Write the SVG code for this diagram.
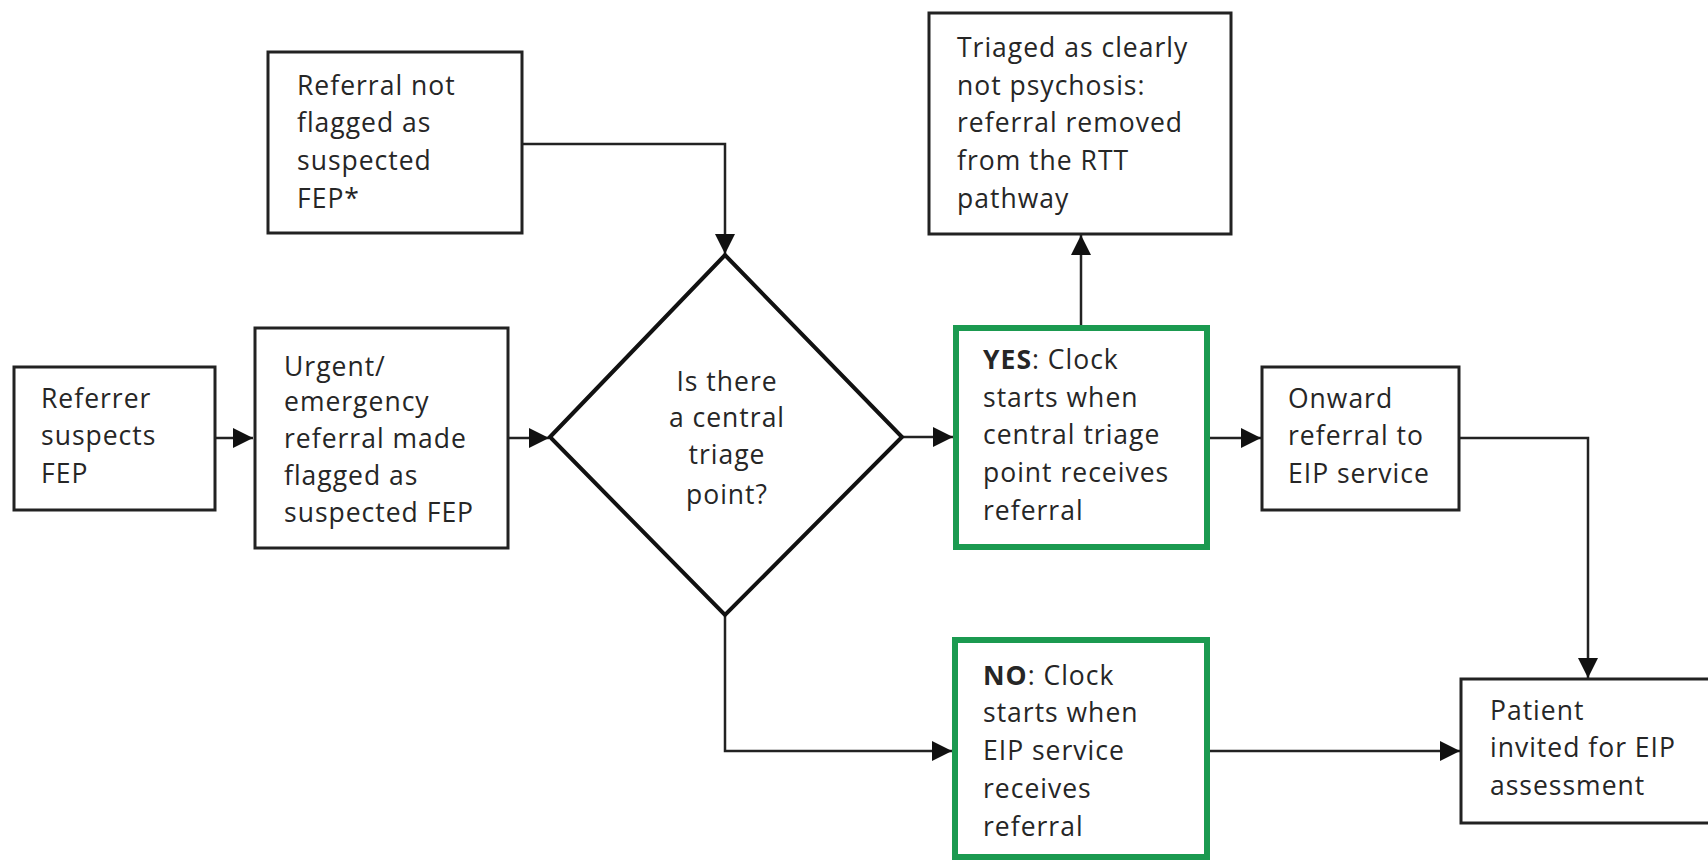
<svg xmlns="http://www.w3.org/2000/svg" width="1708" height="860" viewBox="0 0 1708 860">
<style>
.box{fill:#fff;stroke:#222;stroke-width:3}
.green{fill:#fff;stroke:#1b9a50;stroke-width:6}
.dia{fill:#fff;stroke:#111;stroke-width:4}
.t{font-family:"Open Sans","Liberation Sans",sans-serif;font-size:26.5px;letter-spacing:1px;fill:#262626}
.tc{text-anchor:middle}
.b{font-weight:bold}
.conn{fill:none;stroke:#222;stroke-width:2.5}
</style>
<defs>
<marker id="arr" markerUnits="userSpaceOnUse" markerWidth="22" markerHeight="22" refX="20" refY="10" orient="auto">
<path d="M0,0 L20,10 L0,20 z" fill="#111"/>
</marker>
</defs>
<rect width="1708" height="860" fill="#fff"/>
<g id="connectors">
<path class="conn" d="M215,438 H253" marker-end="url(#arr)"/>
<path class="conn" d="M508,438 H549" marker-end="url(#arr)"/>
<path class="conn" d="M522,144 H725 V254" marker-end="url(#arr)"/>
<path class="conn" d="M902,437 H953" marker-end="url(#arr)"/>
<path class="conn" d="M1081,325 V235" marker-end="url(#arr)"/>
<path class="conn" d="M1210,438 H1261" marker-end="url(#arr)"/>
<path class="conn" d="M1459,438 H1588 V678" marker-end="url(#arr)"/>
<path class="conn" d="M725,615 V751 H952" marker-end="url(#arr)"/>
<path class="conn" d="M1210,751 H1460" marker-end="url(#arr)"/>
</g>
<g id="referrer">
<rect class="box" x="14" y="367" width="201" height="143"/>
<text class="t" x="41" y="408">Referrer</text>
<text class="t" x="41" y="445">suspects</text>
<text class="t" x="41" y="483">FEP</text>
</g>
<g id="urgent">
<rect class="box" x="255" y="328" width="253" height="220"/>
<text class="t" x="284" y="376">Urgent/</text>
<text class="t" x="284" y="411">emergency</text>
<text class="t" x="284" y="448">referral made</text>
<text class="t" x="284" y="485">flagged as</text>
<text class="t" x="284" y="522">suspected FEP</text>
</g>
<g id="notflagged">
<rect class="box" x="268" y="52" width="254" height="181"/>
<text class="t" x="297" y="95">Referral not</text>
<text class="t" x="297" y="132">flagged as</text>
<text class="t" x="297" y="170">suspected</text>
<text class="t" x="297" y="208">FEP*</text>
</g>
<g id="decision">
<polygon class="dia" points="550,437 725,255 902,437 725,615"/>
<text class="t tc" x="727" y="391">Is there</text>
<text class="t tc" x="727" y="427">a central</text>
<text class="t tc" x="727" y="464">triage</text>
<text class="t tc" x="727" y="504">point?</text>
</g>
<g id="triaged">
<rect class="box" x="929" y="13" width="302" height="221"/>
<text class="t" x="957" y="57">Triaged as clearly</text>
<text class="t" x="957" y="95">not psychosis:</text>
<text class="t" x="957" y="132">referral removed</text>
<text class="t" x="957" y="170">from the RTT</text>
<text class="t" x="957" y="208">pathway</text>
</g>
<g id="yes">
<rect class="green" x="956" y="328" width="251" height="219"/>
<text class="t" x="983" y="369"><tspan class="b">YES</tspan>: Clock</text>
<text class="t" x="983" y="407">starts when</text>
<text class="t" x="983" y="444">central triage</text>
<text class="t" x="983" y="482">point receives</text>
<text class="t" x="983" y="520">referral</text>
</g>
<g id="onward">
<rect class="box" x="1262" y="367" width="197" height="143"/>
<text class="t" x="1288" y="408">Onward</text>
<text class="t" x="1288" y="445">referral to</text>
<text class="t" x="1288" y="483">EIP service</text>
</g>
<g id="no">
<rect class="green" x="955" y="640" width="252" height="217"/>
<text class="t" x="983" y="685"><tspan class="b">NO</tspan>: Clock</text>
<text class="t" x="983" y="722">starts when</text>
<text class="t" x="983" y="760">EIP service</text>
<text class="t" x="983" y="798">receives</text>
<text class="t" x="983" y="836">referral</text>
</g>
<g id="patient">
<rect class="box" x="1461" y="679" width="260" height="144"/>
<text class="t" x="1490" y="720">Patient</text>
<text class="t" x="1490" y="757">invited for EIP</text>
<text class="t" x="1490" y="795">assessment</text>
</g>
</svg>
